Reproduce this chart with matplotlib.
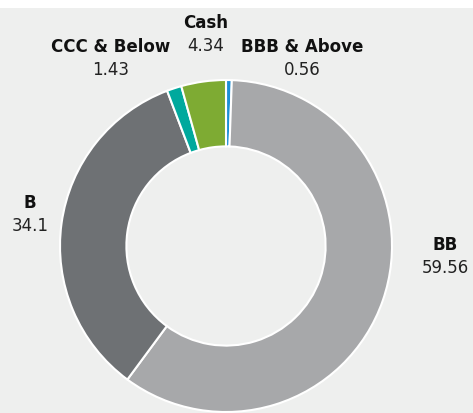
import matplotlib
matplotlib.use('Agg')
import matplotlib.pyplot as plt

# ratings breakdown, clockwise from 12 o'clock
categories = ["BBB & Above", "BB", "B", "CCC & Below", "Cash"]
values = [0.56, 59.56, 34.1, 1.43, 4.34]
value_labels = ["0.56", "59.56", "34.1", "1.43", "4.34"]
colors = ["#1b8fd6", "#a7a8aa", "#6e7174", "#00a99d", "#7eab33"]

# label baselines (pixels from top-left of the image)
label_pos = [(302, 52), (445, 250), (30, 208), (111, 52), (206, 28)]

W, H = 473, 413
fig = plt.figure(figsize=(W / 100, H / 100), dpi=100)
fig.patch.set_facecolor("white")
top_strip = 8
ax = fig.add_axes([0, 0, 1, (H - top_strip) / H])
ax.set_facecolor("#eeefee")

cx, cy, r = 226, H - 246, 166
ax.pie(values, colors=colors, startangle=90, counterclock=False,
       center=(cx, cy), radius=r, frame=True,
       wedgeprops=dict(width=r * 0.4, edgecolor="white", linewidth=1.5))
ax.set_aspect("auto")
ax.set_xlim(0, W)
ax.set_ylim(0, H - top_strip)
ax.set_xticks([])
ax.set_yticks([])
for s in ax.spines.values():
    s.set_visible(False)

for name, val, (x, y) in zip(categories, value_labels, label_pos):
    ax.text(x, H - y, name, ha="center", va="baseline", fontsize=12,
            fontweight="bold", color="#111111")
    ax.text(x, H - y - 23, val, ha="center", va="baseline", fontsize=12,
            color="#222222")

fig.savefig("out.png", dpi=100, facecolor=fig.get_facecolor())
